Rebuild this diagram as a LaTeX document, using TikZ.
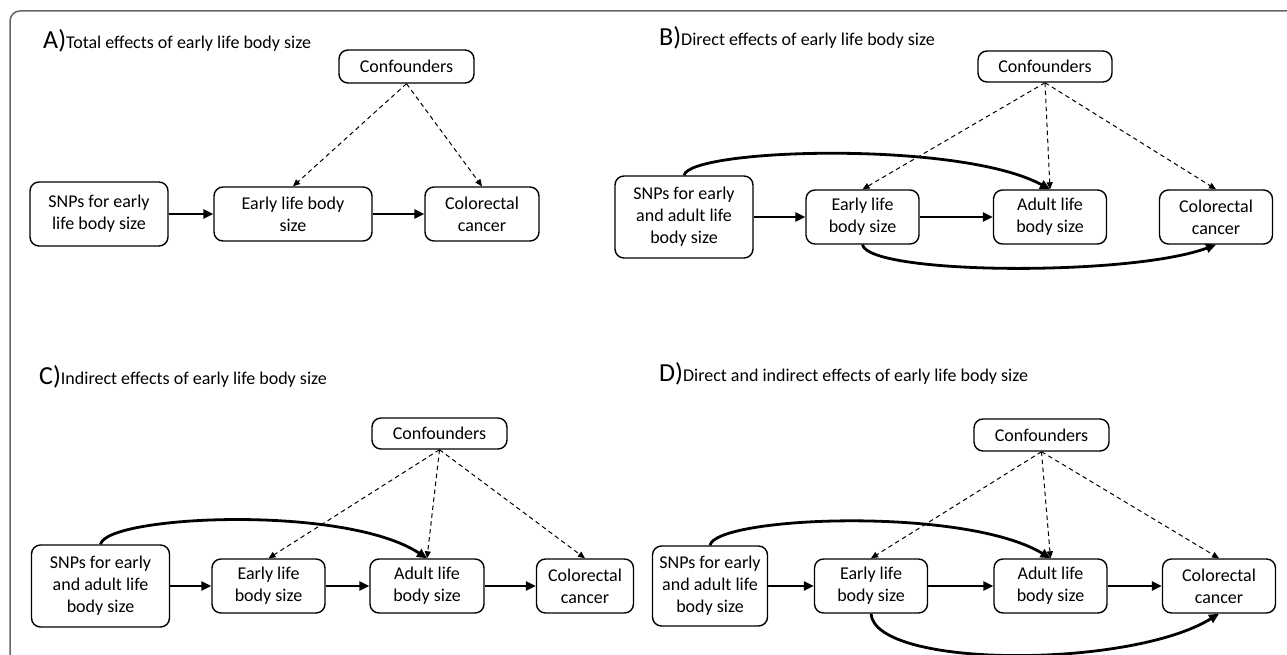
\documentclass[tikz,border=0pt]{standalone}
\usepackage{fontspec}
\setmainfont{Carlito}
\usetikzlibrary{arrows.meta}

\newcommand{\panelletter}[1]{{\fontsize{26}{26}\selectfont #1)}}

\begin{document}
\begin{tikzpicture}[x=1pt, y=-1pt,
    box/.style={draw, line width=1.4pt, rounded corners=9pt, align=center, inner sep=1pt,
      minimum height=54pt, font=\fontsize{18}{22}\selectfont},
    effect/.style={line width=2.8pt, -{Triangle[length=10pt,width=9pt]}},
    confound/.style={line width=1pt, dash pattern=on 4.5pt off 3.5pt, -{Triangle[length=7pt,width=6pt]}},
    paneltitle/.style={anchor=base west, inner sep=0pt, font=\fontsize{18}{20}\selectfont}]

    \clip (0,0) rectangle (1287,655);
    \useasboundingbox (0,0) rectangle (1287,655);
    \draw[black!60, line width=1.5pt, rounded corners=10pt] (10,11) rectangle (1320,690);

    % A) total effects
    \node[paneltitle] (titleA) at (43,49) {\panelletter{A}Total effects of early life body size};
    \node[box, minimum width=135pt, minimum height=33pt] (confA) at (406.5,66.5) {Confounders};
    \node[box, minimum width=138pt, minimum height=64pt] (snpA) at (99,214) {SNPs for early\\life body size};
    \node[box, minimum width=158pt] (earlyA) at (293,214) {Early life body\\size};
    \node[box, minimum width=114pt] (crcA) at (482,214) {Colorectal\\cancer};
    \draw[effect] (snpA) -- (earlyA);
    \draw[effect] (earlyA) -- (crcA);
    \draw[confound] (confA.south) -- (earlyA.north);
    \draw[confound] (confA.south) -- (crcA.north);

    % B) direct effects
    \node[paneltitle] (titleB) at (659,46) {\panelletter{B}Direct effects of early life body size};
    \node[box, minimum width=134pt, minimum height=31pt] (confB) at (1045,66.5) {Confounders};
    \node[box, minimum width=138pt, minimum height=82pt] (snpB) at (684,217) {SNPs for early\\and adult life\\body size};
    \node[box, minimum width=113pt] (earlyB) at (862.5,217) {Early life\\body size};
    \node[box, minimum width=113pt] (adultB) at (1050,217) {Adult life\\body size};
    \node[box, minimum width=113pt] (crcB) at (1216,217) {Colorectal\\cancer};
    \draw[effect] (snpB) -- (earlyB);
    \draw[effect] (earlyB) -- (adultB);
    \draw[effect] (snpB.north) .. controls +(6,-27) and +(-90,-49) .. (adultB.north);
    \draw[effect] (earlyB.south) .. controls +(6,30) and +(-86,32) .. (crcB.south);
    \draw[confound] (confB.south) -- (earlyB.north);
    \draw[confound] (confB.south) -- (adultB.north);
    \draw[confound] (confB.south) -- (crcB.north);

    % C) indirect effects
    \node[paneltitle] (titleC) at (39,384) {\panelletter{C}Indirect effects of early life body size};
    \node[box, minimum width=135pt, minimum height=31pt] (confC) at (439.5,433.5) {Confounders};
    \node[box, minimum width=138pt, minimum height=82pt] (snpC) at (100.5,586) {SNPs for early\\and adult life\\body size};
    \node[box, minimum width=113pt] (earlyC) at (268.5,586) {Early life\\body size};
    \node[box, minimum width=114pt] (adultC) at (427,586) {Adult life\\body size};
    \node[box, minimum width=97pt] (crcC) at (585,586) {Colorectal\\cancer};
    \draw[effect] (snpC) -- (earlyC);
    \draw[effect] (earlyC) -- (adultC);
    \draw[effect] (adultC) -- (crcC);
    \draw[effect] (snpC.north) .. controls +(6,-29) and +(-82,-54) .. (adultC.north);
    \draw[confound] (confC.south) -- (earlyC.north);
    \draw[confound] (confC.south) -- (adultC.north);
    \draw[confound] (confC.south) -- (crcC.north);

    % D) direct and indirect effects
    \node[paneltitle] (titleD) at (659,381) {\panelletter{D}Direct and indirect effects of early life body size};
    \node[box, minimum width=135pt, minimum height=32pt] (confD) at (1041.5,435) {Confounders};
    \node[box, minimum width=115pt, minimum height=80pt] (snpD) at (710,586) {SNPs for early\\and adult life\\body size};
    \node[box, minimum width=113pt] (earlyD) at (871,586) {Early life\\body size};
    \node[box, minimum width=113pt] (adultD) at (1050.5,586) {Adult life\\body size};
    \node[box, minimum width=113pt] (crcD) at (1219,586) {Colorectal\\cancer};
    \draw[effect] (snpD) -- (earlyD);
    \draw[effect] (earlyD) -- (adultD);
    \draw[effect] (adultD) -- (crcD);
    \draw[effect] (snpD.north) .. controls +(6,-29) and +(-86,-52) .. (adultD.north);
    \draw[effect] (earlyD.south) .. controls +(4,55) and +(-89,55) .. (crcD.south);
    \draw[confound] (confD.south) -- (earlyD.north);
    \draw[confound] (confD.south) -- (adultD.north);
    \draw[confound] (confD.south) -- (crcD.north);
\end{tikzpicture}
\end{document}
